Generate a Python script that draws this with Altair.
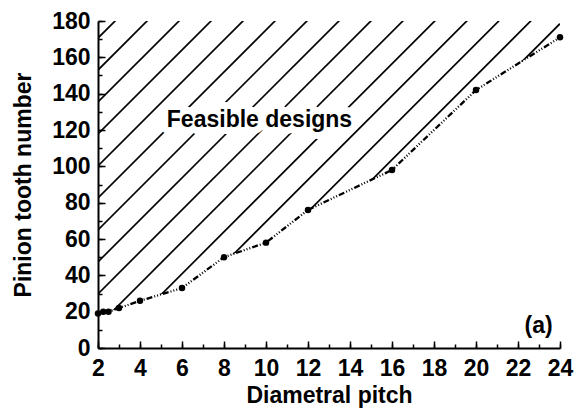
import altair as alt
import pandas as pd

# ---- data ----
pitch = [2, 2.25, 2.5, 3, 4, 6, 8, 10, 12, 16, 20, 24]
teeth = [19, 20, 20, 22, 26, 33, 50, 58, 76, 98, 142, 171]

# hatch lines (decoration): value at pitch = 2, and rise per unit pitch
hatch_start = [170.6, 153.0, 135.4, 117.8, 100.2, 82.6, 65.0, 47.4, 29.8,
               12.2, -5.4, -23.0, -40.6, -58.2, -75.8]
hatch_slope = 11.56

x_ticks = list(range(2, 25))
x_labels = list(range(2, 25, 2))
y_ticks = list(range(0, 181, 10))
y_labels = list(range(0, 181, 20))

notes = ["Feasible designs", "(a)"]
note_x = [9.69, 22.98]
note_y = [125.5, 12.0]

FONT = "Liberation Sans"
FS = 23
W, H = 462, 327

curve = pd.DataFrame({"pitch": pitch, "teeth": teeth})
rows = []
for i, y0 in enumerate(hatch_start):
    rows.append({"id": i, "pitch": x_ticks[0], "teeth": y0})
    rows.append({"id": i, "pitch": x_ticks[-1], "teeth": y0 + hatch_slope * (x_ticks[-1] - x_ticks[0])})
hatch = pd.DataFrame(rows)
note_df = pd.DataFrame({"t": notes, "x": note_x, "y": note_y})

xs = alt.Scale(domain=[2, 24], nice=False)
ys = alt.Scale(domain=[0, 180], nice=False)

lab = dict(labelFont=FONT, labelFontSize=FS, labelFontWeight="bold", labelColor="black",
           titleFont=FONT, titleFontSize=FS, titleFontWeight="bold", titleColor="black",
           domainColor="black", domainWidth=2, ticks=False, grid=False, zindex=2,
           labelFlush=False, labelOverlap=False)

hatch_layer = alt.Chart(hatch).mark_line(color="black", strokeWidth=1.7, clip=True).encode(
    x=alt.X("pitch:Q", scale=xs,
            axis=alt.Axis(orient="bottom", values=x_labels, title="Diametral pitch",
                          labelPadding=9, titlePadding=4, **lab)),
    y=alt.Y("teeth:Q", scale=ys,
            axis=alt.Axis(orient="left", values=y_labels, title="Pinion tooth number",
                          labelPadding=8, titlePadding=16, **lab)),
    detail="id:N",
)

mask = alt.Chart(curve).mark_area(color="white", opacity=1).encode(
    x=alt.X("pitch:Q", scale=xs, axis=None),
    y=alt.Y("teeth:Q", scale=ys, axis=None),
)

tick_common = dict(labels=False, domain=False, ticks=True, tickWidth=1.5, tickColor="black",
                   grid=False, title=None, zindex=2)

line = alt.Chart(curve).mark_line(color="black", strokeWidth=2.3,
                                  strokeDash=[6, 2, 1, 2, 1, 2, 1, 2]).encode(
    x=alt.X("pitch:Q", scale=xs,
            axis=alt.Axis(orient="top", offset=-H, values=x_ticks, tickSize=4, **tick_common)),
    y=alt.Y("teeth:Q", scale=ys,
            axis=alt.Axis(orient="right", offset=-W, values=y_ticks, tickSize=4, **tick_common)),
)

points = alt.Chart(curve).mark_point(filled=True, color="black", size=42, opacity=1).encode(
    x=alt.X("pitch:Q", scale=xs,
            axis=alt.Axis(orient="top", offset=-H, values=x_labels, tickSize=7, **tick_common)),
    y=alt.Y("teeth:Q", scale=ys,
            axis=alt.Axis(orient="right", offset=-W, values=y_labels, tickSize=7, **tick_common)),
)

text_bg = alt.Chart(note_df.iloc[[0]]).mark_text(
    font=FONT, fontSize=FS, fontWeight="bold", color="white", stroke="white",
    strokeWidth=14, strokeJoin="round").encode(
    x=alt.X("x:Q", scale=xs, axis=None), y=alt.Y("y:Q", scale=ys, axis=None), text="t:N")

text = alt.Chart(note_df).mark_text(
    font=FONT, fontSize=FS, fontWeight="bold", color="black").encode(
    x=alt.X("x:Q", scale=xs, axis=None), y=alt.Y("y:Q", scale=ys, axis=None), text="t:N")

chart = alt.layer(hatch_layer, mask, text_bg, line, points, text).resolve_axis(
    x="independent", y="independent"
).properties(
    width=W, height=H,
    autosize=alt.AutoSizeParams(type="none"),
    padding={"left": 98, "top": 21, "right": 16, "bottom": 63},
    background="white",
).configure_view(stroke=None)

chart.save("out.html", embed_options={"renderer": "svg", "actions": False})
